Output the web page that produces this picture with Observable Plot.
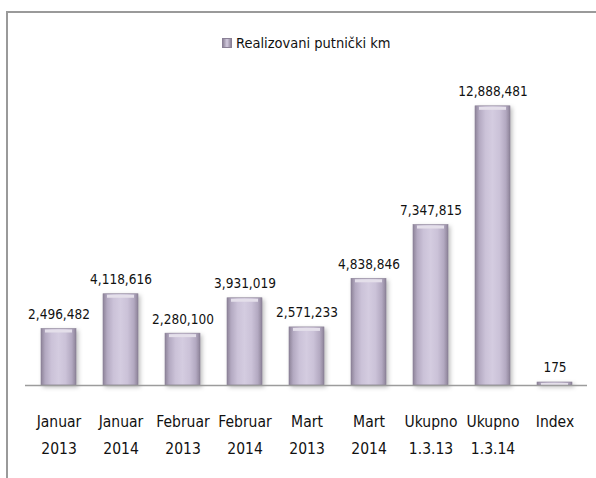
<!DOCTYPE html>
<html>
<head>
<meta charset="utf-8">
<script src="https://cdn.jsdelivr.net/npm/d3@7"></script>
<script src="https://cdn.jsdelivr.net/npm/@observablehq/plot@0.6"></script>
<style>
  html, body { margin: 0; padding: 0; background: #fff; }
  #wrap { position: relative; width: 596px; height: 478px; overflow: hidden; font-family: "DejaVu Sans Condensed", "Liberation Sans Narrow", "Open Sans", sans-serif; }
  #frame { position: absolute; left: 6px; top: 11px; width: 700px; height: 600px; border-top: 2px solid #9a9a9a; border-left: 2px solid #9a9a9a; }
  #legend { position: absolute; left: 222px; top: 35px; font-size: 14.5px; color: #111; display: flex; align-items: center; gap: 4px; white-space: nowrap; }
  #legend .sw { width: 10px; height: 10px; background: linear-gradient(90deg, #8e8499, #d3cbdf 50%, #8e8499); border: 1px solid #8a8096; box-sizing: border-box; }
  #chart { position: absolute; left: 0; top: 0; }
</style>
</head>
<body>
<div id="wrap">
  <div id="frame"></div>
  <div id="chart"></div>
  <div id="legend"><span class="sw"></span><span id="legendText"></span></div>
</div>
<script>
const seriesName = "Realizovani putnički km";
const categories = ["Januar\n2013", "Januar\n2014", "Februar\n2013", "Februar\n2014", "Mart\n2013", "Mart\n2014", "Ukupno\n1.3.13", "Ukupno\n1.3.14", "Index"];
const values = [2496482, 4118616, 2280100, 3931019, 2571233, 4838846, 7347815, 12888481, 175];

const data = categories.map((c, i) => ({category: c, value: values[i]}));
const fmt = d3.format(",");
const FONT = '"DejaVu Sans Condensed", "Liberation Sans Narrow", "Open Sans", sans-serif';

document.getElementById("legendText").textContent = seriesName;

const plot = Plot.plot({
  width: 596,
  height: 478,
  marginLeft: 25,
  marginRight: 9,
  marginTop: 85,
  marginBottom: 93,
  style: {fontFamily: FONT, background: "transparent", overflow: "visible"},
  x: {domain: categories, paddingInner: 0.44, paddingOuter: 0.22, label: null},
  y: {domain: [0, 14000000], axis: null},
  marks: [
    Plot.barY(data, {x: "category", y: "value", fill: "url(#barGrad)", insetTop: -3, stroke: "#8b8197", strokeWidth: 0.6}),
    Plot.tickY(data, {x: "category", y: "value", stroke: "#e4dfea", strokeWidth: 3, dy: -1, insetLeft: 4, insetRight: 4}),
    Plot.ruleY([0], {stroke: "#9c9c9c", strokeWidth: 1.5}),
    Plot.text(data, {x: "category", y: "value", text: d => fmt(d.value), dy: -13, lineAnchor: "bottom", fontSize: 13.5, fill: "#111"}),
    Plot.axisX({tickSize: 0, tickPadding: 22, fontSize: 15.5, lineHeight: 1.75, fill: "#111", label: null})
  ]
});

const svg = d3.select(plot);
const defs = svg.insert("defs", ":first-child");
const g = defs.append("linearGradient").attr("id", "barGrad").attr("x1", "0").attr("x2", "1").attr("y1", "0").attr("y2", "0");
[["0%", "#8d8398"], ["12%", "#b3a9c1"], ["30%", "#cbc2d8"], ["50%", "#d4cce0"], ["70%", "#cbc2d8"], ["88%", "#b3a9c1"], ["100%", "#8d8398"]]
  .forEach(([o, c]) => g.append("stop").attr("offset", o).attr("stop-color", c));
svg.selectAll('g[aria-label="bar"]').style("filter", "drop-shadow(2px 2px 2px rgba(0,0,0,0.25))");

document.getElementById("chart").appendChild(plot);
</script>
</body>
</html>
